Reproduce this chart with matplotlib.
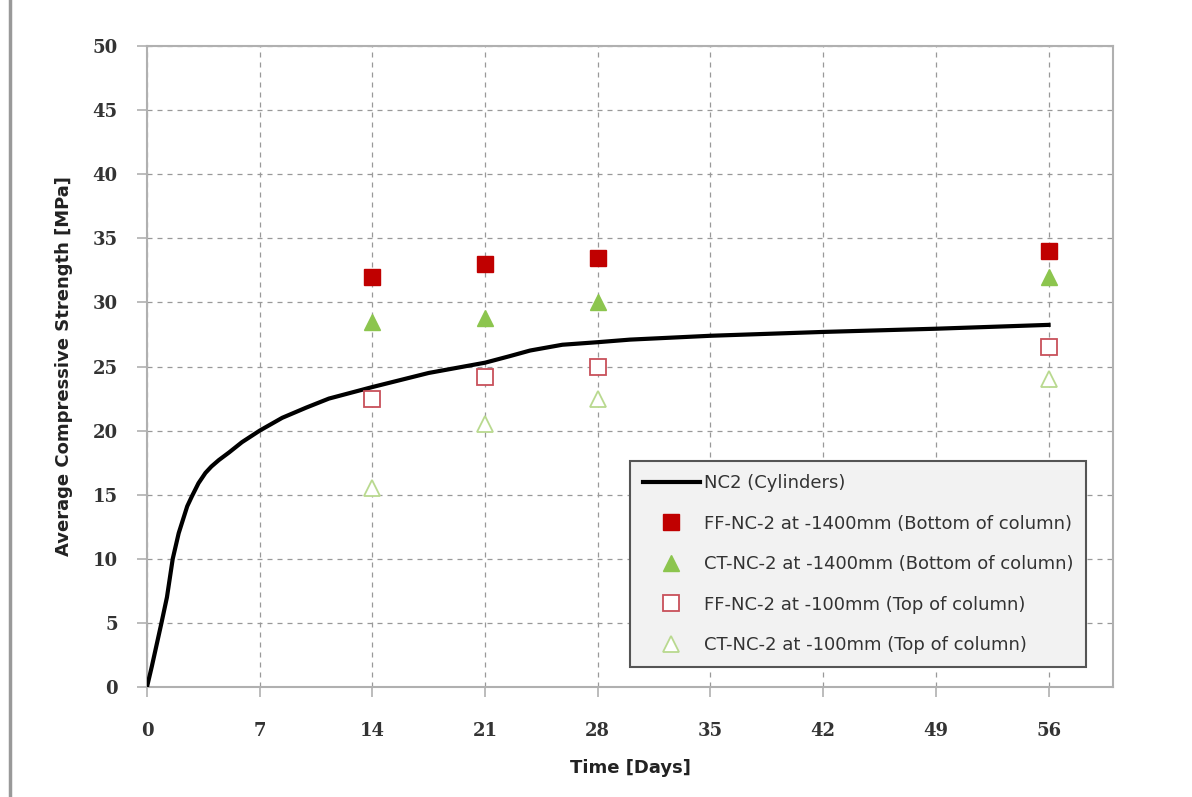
import matplotlib
matplotlib.use("Agg")
import matplotlib.pyplot as plt
from matplotlib.lines import Line2D

# NC2 cylinder curve
nc2_days = [0, 0.3, 0.9, 1.24, 1.6, 1.97, 2.5, 2.8, 3.2, 3.63, 4.0, 4.46, 5.1, 5.9, 7,
            8.4, 9.9, 11.3, 14, 17.5, 21, 22.5, 23.8, 25.8, 28, 30, 35, 42, 49, 56]
nc2_mpa = [0, 1.6, 5, 7, 10, 12, 14.1, 14.9, 15.9, 16.7, 17.2, 17.7, 18.3, 19.1, 20,
           21.0, 21.8, 22.5, 23.4, 24.5, 25.3, 25.8, 26.25, 26.7, 26.9, 27.1, 27.4, 27.7, 27.95, 28.25]

test_days = [14, 21, 28, 56]
ff_bottom = [32, 33, 33.5, 34]
ct_bottom = [28.5, 28.8, 30, 32]
ff_top = [22.5, 24.2, 25, 26.5]
ct_top = [15.5, 20.5, 22.5, 24]

x_ticks = [0, 7, 14, 21, 28, 35, 42, 49, 56]
y_ticks = [0, 5, 10, 15, 20, 25, 30, 35, 40, 45, 50]

fig = plt.figure(figsize=(11.92, 7.97), dpi=100)
ax = fig.add_axes([0.1233, 0.138, 0.8104, 0.8042])

ax.plot(nc2_days, nc2_mpa, color="black", lw=3, label="NC2 (Cylinders)", zorder=3,
        solid_joinstyle="round")
ax.plot(test_days, ff_bottom, ls="none", marker="s", ms=11, color="#C00000",
        label="FF-NC-2 at -1400mm (Bottom of column)", zorder=4)
ax.plot(test_days, ct_bottom, ls="none", marker="^", ms=12, color="#8CC54E",
        label="CT-NC-2 at -1400mm (Bottom of column)", zorder=4)
ax.plot(test_days, ff_top, ls="none", marker="s", ms=11, mfc="white", mec="#C8505A",
        mew=1.3, label="FF-NC-2 at -100mm (Top of column)", zorder=4)
ax.plot(test_days, ct_top, ls="none", marker="^", ms=12, mfc="white", mec="#B9D98F",
        mew=1.3, label="CT-NC-2 at -100mm (Top of column)", zorder=4)

ax.set_xlim(0, 60)
ax.set_ylim(0, 50)
ax.set_xticks(x_ticks)
ax.set_yticks(y_ticks)
ax.grid(True, ls=(0, (4, 4)), color="#999999", lw=0.9)
ax.set_axisbelow(True)
for s in ax.spines.values():
    s.set_color("#B0B0B0")
    s.set_linewidth(1.5)
ax.tick_params(axis="both", direction="out", length=7, color="#B0B0B0", width=1.2)
ax.tick_params(axis="x", pad=18)
ax.tick_params(axis="y", pad=14)
for lab in ax.get_xticklabels() + ax.get_yticklabels():
    lab.set_fontfamily("DejaVu Serif")
    lab.set_fontweight("bold")
    lab.set_fontsize(13)
    lab.set_color("#333333")

ax.set_xlabel("Time [Days]", fontsize=13, fontweight="bold", labelpad=14, color="#222222")
ax.set_ylabel("Average Compressive Strength [MPa]", fontsize=13, fontweight="bold",
              labelpad=14, color="#222222")

leg = ax.legend(loc="upper left", bbox_to_anchor=(0.5, 0.352), fontsize=13,
                frameon=True, fancybox=False, handlelength=3.2, labelspacing=1.25,
                borderpad=0.7, handletextpad=0.2, borderaxespad=0)
leg.get_frame().set_facecolor("#F2F2F2")
leg.get_frame().set_edgecolor("#555555")
leg.get_frame().set_linewidth(1.5)
leg.get_frame().set_alpha(1)
for t in leg.get_texts():
    t.set_color("#333333")

fig.add_artist(Line2D([0.008, 0.008], [0, 1], color="#999999", lw=2.5))

fig.savefig("out.png", dpi=100)
